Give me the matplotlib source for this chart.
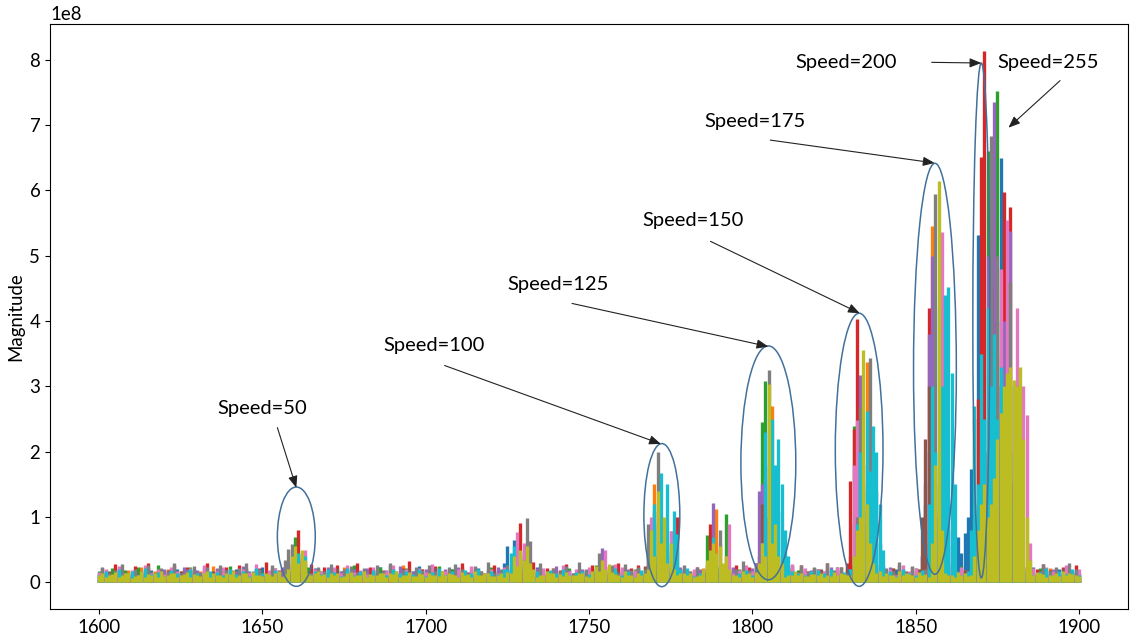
import numpy as np
import matplotlib
matplotlib.use("Agg")
import matplotlib.pyplot as plt
from matplotlib.patches import Ellipse

# ---------------------------------------------------------------------------
# Spectrum magnitudes on 1-unit frequency bins starting at 1600.
# All magnitudes are given in units of 1e6.
# ---------------------------------------------------------------------------
FREQ_START = 1600
UNIT = 1e6

noise_blue = [
    14, 2, 18, 4, 11, 1, 20, 3, 16, 5, 12, 2, 22, 0, 15, 3, 19, 1, 13, 4,
    17, 2, 10, 5, 21, 3, 14, 1, 18, 4, 12, 0, 23, 2, 16, 5, 11, 3, 19, 1,
    15, 4, 20, 2, 13, 0, 17, 3, 12, 6, 24, 1, 14, 3, 18, 2, 11, 5, 16, 0,
    20, 3, 13, 1, 17, 4, 22, 2, 10, 5, 15, 1, 19, 3, 12, 0, 21, 4, 14, 2,
    18, 1, 11, 3, 16, 5, 23, 0, 13, 2, 20, 4, 15, 1, 12, 3, 17, 2, 25, 6,
    14, 1, 19, 3, 11, 0, 16, 4, 21, 2, 13, 5, 18, 1, 10, 3, 22, 2, 15, 4,
    12, 0, 17, 3, 20, 1, 14, 5, 11, 2, 19, 4, 16, 0, 23, 3, 13, 1, 18, 2,
    10, 4, 21, 1, 15, 3, 12, 0, 19, 5, 14, 2, 17, 3, 22, 1, 11, 4, 16, 2,
    20, 0, 13, 3, 18, 1, 15, 4, 24, 2, 12, 5, 16, 1, 19, 3, 11, 0, 21, 4,
    14, 2, 17, 1, 12, 3, 20, 5, 15, 0, 18, 2, 13, 4, 22, 1, 16, 3, 10, 2,
    19, 4, 14, 0, 23, 3, 11, 1, 17, 5, 15, 2, 20, 3, 12, 0, 18, 4, 13, 1,
    21, 3, 16, 2, 11, 4, 19, 0, 14, 5, 25, 1, 13, 3, 17, 2, 22, 4, 15, 0,
    12, 3, 18, 1, 20, 5, 14, 2, 16, 0, 11, 4, 23, 3, 15, 1, 19, 2, 13, 5,
    17, 0, 22, 3, 12, 1, 16, 4, 20, 2, 14, 5, 18, 1, 11, 3, 21, 0, 15, 2,
    13, 4, 19, 1, 16, 3, 24, 0, 12, 5, 17, 2, 14, 3, 20, 1, 11, 4, 18, 2,
    15,
]
noise_orange = [
    3, 16, 1, 12, 5, 21, 2, 14, 0, 19, 4, 11, 2, 24, 1, 15, 3, 18, 0, 13,
    5, 20, 2, 10, 4, 17, 1, 22, 3, 14, 0, 18, 5, 12, 2, 25, 1, 16, 4, 11,
    2, 19, 0, 14, 3, 21, 5, 13, 1, 17, 4, 10, 2, 23, 0, 15, 3, 18, 1, 12,
    4, 22, 2, 16, 0, 11, 5, 20, 3, 14, 1, 19, 4, 13, 2, 24, 0, 17, 3, 10,
    1, 18, 4, 15, 2, 21, 0, 12, 5, 19, 3, 14, 1, 26, 4, 11, 2, 17, 0, 20,
    3, 13, 5, 22, 1, 16, 4, 10, 2, 18, 0, 23, 3, 14, 5, 19, 1, 12, 4, 21,
    2, 15, 0, 18, 3, 11, 1, 24, 4, 16, 2, 13, 5, 20, 0, 17, 3, 12, 1, 22,
    4, 14, 2, 19, 0, 10, 5, 21, 3, 15, 1, 18, 4, 12, 2, 25, 0, 16, 3, 13,
    5, 20, 1, 11, 4, 17, 2, 23, 0, 14, 3, 19, 1, 12, 5, 16, 2, 21, 4, 10,
    0, 18, 3, 15, 1, 22, 4, 13, 2, 19, 5, 11, 0, 24, 3, 14, 1, 17, 4, 20,
    2, 12, 5, 18, 0, 21, 3, 15, 1, 10, 4, 23, 2, 16, 0, 19, 5, 13, 1, 22,
    3, 14, 1, 20, 4, 11, 2, 17, 0, 25, 3, 15, 5, 12, 1, 19, 2, 21, 4, 16,
    0, 13, 3, 22, 1, 18, 5, 10, 2, 16, 4, 20, 0, 14, 3, 24, 1, 12, 5, 17,
    2, 21, 4, 15, 0, 19, 3, 11, 1, 23, 5, 14, 2, 18, 0, 12, 4, 20, 3, 16,
    1, 10, 5, 24, 2, 17, 0, 13, 4, 19, 1, 22, 3, 15, 5, 11, 2, 18, 0, 14,
    3,
]
noise_green = [
    17, 3, 12, 0, 22, 4, 15, 2, 19, 1, 11, 5, 24, 3, 13, 0, 18, 2, 27, 4,
    14, 1, 20, 3, 10, 5, 16, 2, 23, 0, 12, 4, 19, 1, 15, 3, 21, 2, 11, 5,
    25, 0, 13, 3, 18, 1, 14, 4, 20, 2, 16, 0, 12, 5, 22, 3, 17, 1, 10, 4,
    19, 2, 15, 0, 24, 3, 11, 5, 17, 1, 21, 4, 13, 2, 18, 0, 14, 3, 26, 1,
    12, 5, 20, 2, 16, 0, 23, 4, 10, 3, 18, 1, 15, 5, 22, 2, 13, 0, 19, 4,
    11, 3, 17, 1, 25, 4, 14, 0, 21, 2, 16, 5, 12, 3, 20, 1, 18, 4, 10, 2,
    23, 0, 15, 3, 19, 1, 13, 5, 17, 2, 11, 4, 24, 0, 16, 3, 20, 1, 14, 5,
    18, 2, 12, 4, 22, 0, 15, 3, 10, 1, 19, 5, 27, 2, 13, 4, 17, 0, 21, 3,
    16, 1, 11, 5, 20, 3, 14, 2, 25, 0, 12, 4, 18, 1, 15, 3, 23, 2, 10, 5,
    19, 3, 13, 0, 17, 4, 21, 2, 11, 1, 24, 5, 14, 3, 16, 0, 20, 2, 12, 4,
    15, 0, 22, 3, 18, 1, 10, 5, 16, 2, 13, 4, 26, 0, 19, 3, 11, 1, 17, 5,
    20, 2, 14, 4, 12, 0, 23, 3, 15, 1, 18, 5, 10, 2, 21, 4, 16, 0, 13, 3,
    24, 1, 17, 5, 11, 2, 19, 0, 14, 4, 22, 3, 12, 1, 16, 5, 20, 2, 15, 0,
    10, 4, 18, 2, 25, 3, 13, 1, 21, 5, 15, 0, 17, 4, 11, 2, 23, 3, 19, 1,
    14, 5, 12, 0, 20, 3, 16, 2, 22, 4, 11, 1, 18, 5, 13, 0, 24, 2, 15, 3,
    12,
]
noise_red = [
    4, 22, 1, 15, 3, 28, 0, 18, 5, 13, 2, 25, 4, 16, 1, 30, 3, 12, 0, 21,
    5, 17, 2, 26, 4, 14, 1, 23, 3, 19, 0, 12, 5, 29, 2, 16, 4, 20, 1, 24,
    3, 13, 0, 27, 5, 18, 2, 15, 4, 22, 1, 31, 3, 14, 0, 19, 5, 25, 2, 16,
    1, 21, 4, 12, 3, 28, 0, 17, 5, 23, 2, 14, 1, 26, 4, 18, 3, 13, 0, 30,
    5, 16, 2, 24, 1, 19, 4, 12, 3, 27, 0, 15, 5, 22, 2, 33, 1, 17, 4, 20,
    3, 14, 0, 25, 5, 18, 2, 21, 4, 13, 1, 29, 3, 16, 0, 23, 5, 12, 2, 19,
    4, 27, 1, 15, 3, 20, 0, 24, 5, 17, 2, 13, 4, 31, 1, 18, 3, 22, 0, 14,
    5, 19, 2, 28, 4, 12, 1, 21, 3, 16, 0, 26, 5, 14, 2, 23, 4, 18, 1, 30,
    3, 15, 0, 22, 5, 27, 2, 13, 4, 20, 1, 17, 3, 25, 0, 14, 5, 29, 2, 19,
    4, 12, 1, 24, 3, 18, 0, 28, 5, 15, 2, 21, 4, 13, 1, 26, 3, 17, 0, 23,
    5, 30, 2, 16, 4, 19, 1, 14, 3, 25, 0, 20, 5, 12, 2, 27, 4, 18, 1, 22,
    3, 17, 0, 29, 5, 13, 2, 24, 4, 16, 1, 21, 3, 32, 0, 15, 5, 19, 2, 26,
    4, 14, 1, 20, 3, 27, 0, 12, 5, 23, 2, 18, 4, 15, 1, 28, 3, 21, 0, 16,
    5, 25, 2, 13, 4, 19, 1, 30, 3, 17, 0, 22, 5, 14, 2, 26, 4, 12, 1, 20,
    3, 18, 0, 24, 5, 15, 2, 21, 4, 28, 1, 13, 3, 19, 0, 23, 5, 16, 2, 27,
    4,
]
noise_purple = [
    13, 2, 19, 5, 11, 0, 23, 3, 15, 1, 18, 4, 12, 2, 21, 0, 16, 5, 14, 3,
    20, 1, 10, 4, 17, 2, 24, 0, 13, 5, 19, 3, 15, 1, 11, 4, 22, 2, 16, 0,
    12, 5, 18, 3, 25, 1, 14, 4, 20, 0, 11, 2, 17, 5, 13, 3, 23, 1, 15, 4,
    19, 0, 16, 2, 12, 5, 21, 3, 14, 1, 24, 4, 10, 0, 18, 2, 15, 5, 20, 3,
    11, 1, 22, 4, 17, 0, 13, 2, 19, 5, 15, 3, 25, 1, 12, 4, 18, 0, 14, 2,
    21, 5, 16, 3, 10, 1, 20, 4, 13, 0, 23, 2, 17, 5, 11, 3, 19, 1, 15, 4,
    14, 0, 24, 2, 18, 5, 12, 3, 16, 1, 20, 4, 11, 0, 22, 2, 13, 5, 17, 3,
    25, 1, 15, 4, 19, 0, 11, 2, 21, 5, 14, 3, 18, 1, 12, 4, 23, 0, 16, 2,
    10, 5, 20, 3, 14, 1, 17, 4, 22, 0, 13, 2, 19, 5, 15, 3, 11, 1, 24, 4,
    18, 0, 12, 2, 21, 5, 16, 3, 10, 1, 19, 4, 14, 0, 23, 2, 17, 5, 13, 3,
    22, 1, 15, 4, 11, 0, 20, 2, 18, 5, 12, 3, 25, 1, 16, 4, 14, 0, 19, 2,
    13, 5, 17, 3, 24, 1, 12, 4, 15, 0, 21, 2, 11, 5, 18, 3, 20, 1, 14, 4,
    16, 0, 23, 2, 13, 5, 19, 3, 10, 1, 17, 4, 22, 0, 14, 2, 12, 5, 25, 3,
    11, 1, 18, 4, 20, 0, 15, 2, 13, 5, 24, 3, 16, 1, 19, 4, 12, 0, 21, 2,
    17, 5, 14, 3, 22, 1, 11, 4, 18, 0, 15, 2, 20, 5, 13, 3, 23, 1, 16, 4,
    12,
]
noise_brown = [
    2, 14, 0, 18, 4, 11, 1, 20, 3, 13, 5, 16, 2, 9, 0, 22, 4, 15, 1, 12,
    3, 19, 5, 10, 2, 17, 0, 13, 4, 21, 1, 15, 3, 11, 5, 18, 2, 14, 0, 20,
    4, 12, 1, 16, 3, 22, 5, 9, 0, 18, 2, 13, 4, 19, 1, 11, 3, 21, 5, 15,
    0, 17, 2, 13, 4, 10, 1, 20, 3, 16, 5, 12, 0, 22, 2, 14, 4, 18, 1, 9,
    3, 21, 5, 15, 0, 12, 2, 19, 4, 11, 1, 17, 3, 14, 5, 20, 0, 13, 2, 16,
    4, 10, 1, 22, 3, 14, 5, 18, 0, 12, 2, 20, 4, 15, 1, 9, 3, 17, 5, 13,
    0, 19, 2, 11, 4, 16, 1, 21, 3, 13, 5, 18, 0, 10, 2, 22, 4, 14, 1, 17,
    3, 12, 5, 20, 0, 15, 2, 9, 4, 19, 1, 14, 3, 21, 5, 11, 0, 16, 2, 18,
    4, 13, 1, 17, 3, 22, 5, 12, 0, 15, 2, 20, 4, 10, 1, 18, 3, 14, 5, 21,
    0, 16, 2, 11, 4, 19, 1, 13, 3, 22, 5, 15, 0, 17, 2, 9, 4, 20, 1, 12,
    3, 18, 5, 14, 0, 21, 2, 10, 4, 16, 1, 19, 3, 13, 5, 22, 0, 11, 2, 15,
    4, 20, 1, 12, 3, 17, 5, 14, 0, 19, 2, 11, 4, 21, 1, 16, 3, 13, 5, 18,
    0, 9, 2, 22, 4, 15, 1, 18, 3, 12, 5, 20, 0, 14, 2, 17, 4, 11, 1, 21,
    3, 13, 5, 16, 0, 19, 2, 12, 4, 22, 1, 15, 3, 10, 5, 18, 0, 20, 2, 14,
    4, 17, 1, 11, 3, 21, 5, 13, 0, 16, 2, 19, 4, 12, 1, 22, 3, 15, 5, 10,
    2,
]
noise_pink = [
    16, 3, 21, 0, 12, 4, 25, 2, 14, 5, 19, 1, 11, 3, 27, 0, 15, 4, 20, 2,
    13, 5, 23, 1, 17, 3, 10, 0, 22, 4, 15, 2, 26, 5, 12, 1, 18, 3, 24, 0,
    14, 4, 11, 2, 20, 5, 16, 1, 28, 3, 13, 0, 19, 4, 22, 2, 10, 5, 17, 1,
    25, 3, 15, 0, 12, 4, 21, 2, 18, 5, 11, 1, 24, 3, 14, 0, 27, 4, 16, 2,
    19, 5, 13, 1, 23, 3, 10, 0, 17, 4, 26, 2, 15, 5, 20, 1, 12, 3, 22, 0,
    16, 4, 28, 2, 11, 5, 18, 1, 14, 3, 21, 0, 13, 4, 25, 2, 17, 5, 10, 1,
    20, 3, 15, 0, 24, 4, 12, 2, 19, 5, 16, 1, 27, 3, 11, 0, 22, 4, 14, 2,
    13, 5, 26, 1, 17, 3, 21, 0, 10, 4, 23, 2, 15, 5, 18, 1, 12, 3, 28, 0,
    24, 4, 14, 2, 19, 5, 11, 1, 22, 3, 16, 0, 25, 4, 13, 2, 20, 5, 17, 1,
    12, 3, 21, 0, 15, 4, 27, 2, 18, 5, 10, 1, 23, 3, 14, 0, 19, 4, 26, 2,
    17, 5, 11, 1, 25, 3, 16, 0, 20, 4, 13, 2, 28, 5, 15, 1, 22, 3, 12, 0,
    21, 4, 18, 2, 14, 5, 24, 1, 10, 3, 19, 0, 16, 4, 26, 2, 13, 5, 23, 1,
    15, 3, 20, 0, 12, 4, 27, 2, 17, 5, 22, 1, 11, 3, 18, 0, 25, 4, 14, 2,
    19, 5, 13, 1, 23, 3, 16, 0, 28, 4, 12, 2, 21, 5, 15, 1, 20, 3, 10, 0,
    26, 4, 17, 2, 11, 5, 22, 1, 14, 3, 24, 0, 18, 4, 13, 2, 27, 5, 16, 1,
    20,
]
noise_gray = [
    3, 24, 1, 15, 4, 19, 0, 28, 2, 13, 5, 21, 3, 17, 1, 26, 4, 12, 0, 22,
    2, 18, 5, 30, 3, 14, 1, 20, 4, 25, 0, 16, 2, 23, 5, 11, 3, 27, 1, 19,
    4, 13, 0, 22, 2, 29, 5, 17, 3, 21, 1, 12, 4, 26, 0, 18, 2, 24, 5, 15,
    3, 31, 1, 19, 4, 14, 0, 23, 2, 17, 5, 28, 3, 12, 1, 20, 4, 25, 0, 16,
    2, 22, 5, 13, 3, 27, 1, 18, 4, 30, 0, 15, 2, 21, 5, 11, 3, 24, 1, 19,
    4, 26, 0, 17, 2, 12, 5, 23, 3, 28, 1, 20, 4, 14, 0, 25, 2, 18, 5, 32,
    3, 15, 1, 21, 4, 27, 0, 13, 2, 19, 5, 24, 3, 16, 1, 29, 4, 12, 0, 22,
    2, 18, 5, 25, 3, 14, 1, 31, 4, 20, 0, 17, 2, 23, 5, 13, 3, 26, 1, 15,
    4, 28, 0, 19, 2, 24, 5, 12, 3, 21, 1, 30, 4, 16, 0, 22, 2, 14, 5, 27,
    3, 17, 1, 23, 4, 13, 0, 26, 2, 18, 5, 29, 3, 15, 1, 21, 4, 33, 0, 19,
    2, 25, 5, 14, 3, 20, 1, 28, 4, 16, 0, 22, 2, 12, 5, 27, 3, 18, 1, 24,
    4, 13, 0, 30, 2, 19, 5, 23, 3, 15, 1, 26, 4, 21, 0, 17, 2, 28, 5, 14,
    3, 22, 1, 18, 4, 31, 0, 16, 2, 25, 5, 12, 3, 20, 1, 27, 4, 15, 0, 23,
    2, 29, 5, 17, 3, 13, 1, 24, 4, 19, 0, 32, 2, 14, 5, 21, 3, 26, 1, 18,
    4, 16, 0, 25, 2, 20, 5, 12, 3, 28, 1, 17, 4, 23, 0, 15, 2, 30, 5, 21,
    3,
]
noise_cyan = [
    12, 2, 17, 4, 9, 1, 20, 3, 14, 0, 18, 5, 11, 2, 22, 4, 13, 1, 16, 3,
    10, 0, 19, 5, 15, 2, 12, 4, 21, 1, 14, 3, 8, 0, 18, 5, 16, 2, 11, 4,
    20, 1, 13, 3, 17, 0, 10, 5, 22, 2, 15, 4, 12, 1, 19, 3, 9, 0, 16, 5,
    14, 2, 21, 4, 11, 1, 18, 3, 13, 0, 20, 5, 16, 2, 10, 4, 22, 1, 12, 3,
    17, 0, 9, 5, 19, 2, 14, 4, 11, 1, 21, 3, 15, 0, 18, 5, 13, 2, 20, 4,
    10, 1, 16, 3, 22, 0, 12, 5, 17, 2, 9, 4, 19, 1, 14, 3, 21, 0, 11, 5,
    18, 2, 13, 4, 20, 1, 15, 3, 10, 0, 22, 5, 12, 2, 17, 4, 9, 1, 19, 3,
    14, 0, 21, 5, 11, 2, 16, 4, 18, 1, 13, 3, 20, 0, 10, 5, 15, 2, 22, 4,
    12, 1, 17, 3, 9, 0, 19, 5, 14, 2, 21, 4, 11, 1, 16, 3, 20, 0, 13, 5,
    22, 2, 10, 4, 15, 1, 18, 3, 12, 0, 17, 5, 21, 2, 9, 4, 14, 1, 19, 3,
    11, 0, 20, 5, 16, 2, 13, 4, 22, 1, 10, 3, 18, 0, 15, 5, 12, 2, 17, 4,
    19, 1, 14, 3, 21, 0, 9, 5, 16, 2, 20, 4, 12, 1, 18, 3, 11, 0, 22, 5,
    13, 2, 17, 4, 10, 1, 20, 3, 15, 0, 12, 5, 19, 2, 14, 4, 21, 1, 9, 3,
    16, 0, 22, 5, 12, 2, 18, 4, 11, 1, 15, 3, 20, 0, 13, 5, 17, 2, 10, 4,
    21, 1, 14, 3, 19, 0, 11, 5, 16, 2, 22, 4, 9, 1, 18, 3, 13, 0, 20, 5,
    12,
]
noise_olive = [
    12, 15, 8, 11, 13, 16, 9, 12, 14, 15, 7, 10, 12, 17, 9, 13, 11, 14, 8, 18,
    10, 11, 14, 15, 9, 12, 13, 16, 8, 13, 12, 10, 14, 17, 9, 14, 11, 12, 8, 15,
    13, 18, 9, 11, 14, 14, 8, 16, 12, 12, 10, 15, 13, 10, 14, 17, 8, 13, 11, 14,
    9, 12, 13, 16, 8, 11, 14, 18, 12, 13, 9, 14, 12, 15, 8, 10, 14, 16, 10, 12,
    12, 17, 8, 13, 11, 11, 14, 15, 9, 14, 13, 18, 8, 12, 11, 16, 10, 10, 14, 13,
    8, 15, 12, 12, 10, 17, 11, 14, 13, 11, 8, 16, 12, 13, 9, 18, 11, 12, 14, 15,
    10, 10, 12, 14, 8, 16, 11, 13, 14, 17, 9, 12, 13, 15, 8, 11, 12, 18, 14, 14,
    8, 13, 10, 16, 12, 12, 11, 15, 14, 10, 8, 17, 10, 14, 12, 13, 11, 16, 13, 11,
    9, 18, 12, 12, 8, 15, 11, 14, 13, 16, 10, 11, 12, 17, 8, 13, 11, 12, 14, 15,
    12, 14, 8, 10, 11, 16, 10, 13, 14, 18, 12, 12, 8, 15, 11, 11, 9, 17, 13, 14,
    8, 16, 11, 13, 12, 11, 10, 17, 14, 14, 8, 12, 11, 18, 12, 15, 10, 10, 13, 13,
    11, 15, 8, 12, 10, 16, 12, 14, 13, 11, 11, 17, 8, 13, 10, 15, 12, 12, 14, 18,
    10, 14, 11, 11, 8, 17, 12, 15, 13, 12, 9, 16, 11, 13, 8, 10, 12, 18, 14, 14,
    11, 12, 8, 16, 12, 14, 10, 11, 14, 17, 11, 13, 8, 15, 12, 12, 10, 18, 13, 10,
    8, 17, 11, 14, 10, 12, 12, 16, 14, 13, 8, 11, 11, 15, 10, 18, 12, 14, 13, 12,
    10,
]

# Resonance peaks: {first frequency of the window: magnitudes on consecutive bins}
peaks_blue = {
    1659: [25, 8, 30],
    1724: [30, 55, 20, 65, 25, 50, 10],
    1771: [30, 60, 20, 50, 25],
    1788: [20, 50, 15],
    1802: [30, 90, 180, 100, 160, 70, 110, 40, 20],
    1832: [60, 100, 180, 110, 160, 150, 140, 60, 25],
    1852: [40, 120, 200, 250, 150, 100, 160, 200, 80],
    1861: [55, 30, 70, 45, 75],
    1866: [100, 174, 120, 531, 300, 150, 120, 200, 180, 140, 649, 300, 250,
           160, 150, 80, 40],
}
peaks_orange = {
    1660: [45, 10, 38],
    1729: [20, 40, 10],
    1769: [30, 151, 25],
    1788: [30, 113, 20],
    1805: [60, 270, 40],
    1834: [80, 337, 60],
    1854: [80, 546, 120],
    1871: [100, 200, 120, 150, 130, 350, 300, 150, 200, 80],
}
peaks_green = {
    1659: [20, 70, 15, 40],
    1728: [15, 45, 10],
    1770: [40, 90, 30, 70],
    1785: [15, 73, 20],
    1791: [25, 105, 15],
    1802: [40, 245, 309, 50],
    1830: [40, 240, 60],
    1854: [60, 200, 40],
    1867: [40, 250, 100, 200, 180, 661, 200, 250, 752, 200, 534, 150, 300, 100],
}
peaks_red = {
    1660: [30, 80, 20],
    1728: [25, 91, 15, 40],
    1769: [20, 110, 15],
    1776: [30, 100, 20],
    1786: [25, 90, 20],
    1806: [50, 171, 30],
    1829: [30, 156, 235, 403, 60],
    1853: [50, 420, 60],
    1868: [60, 280, 651, 814, 200, 250, 150, 300, 200, 597, 250, 574, 150, 100],
}
peaks_purple = {
    1661: [35, 5, 30],
    1727: [10, 45, 20],
    1753: [10, 53, 20],
    1772: [70, 20, 40, 79],
    1787: [30, 122, 25],
    1801: [30, 140, 150, 40],
    1832: [80, 317, 90],
    1852: [40, 150, 380, 500, 90],
    1870: [100, 200, 500, 250, 735, 300, 250, 400, 200, 538, 150, 60],
}
peaks_brown = {
    1658: [30, 50, 12, 45],
    1767: [25, 60, 20],
    1802: [20, 120, 30],
    1830: [20, 90, 30],
    1852: [100, 220, 300, 80],
    1869: [80, 350, 150, 200, 450, 200, 400, 150, 250, 100],
}
peaks_pink = {
    1662: [45, 50, 8],
    1727: [30, 77, 25, 60],
    1754: [15, 50, 10],
    1768: [40, 100, 30],
    1774: [20, 79, 15],
    1790: [60, 20, 40, 90, 15],
    1803: [60, 160, 40, 120, 30],
    1831: [180, 248, 90],
    1857: [200, 537, 250, 120],
    1873: [150, 300, 200, 480, 250, 555, 200, 300, 420, 150, 300, 256, 60],
}
peaks_gray = {
    1657: [35, 51, 59, 20],
    1730: [35, 98, 64, 15],
    1752: [20, 45, 12],
    1767: [20, 90, 30, 40, 199, 80, 25],
    1789: [25, 80, 20],
    1804: [100, 325, 80],
    1832: [100, 268, 120, 150, 344, 60],
    1855: [150, 595, 100],
    1869: [100, 200, 150, 250, 684, 200, 500, 300, 250, 200, 460, 150, 300, 100],
}
peaks_cyan = {
    1661: [45, 12, 40],
    1725: [20, 45, 56, 15],
    1769: [40, 120, 80, 168, 90, 150, 60, 110, 74, 20],
    1787: [20, 70, 25],
    1803: [60, 230, 150, 250, 180, 220, 150, 80, 40],
    1832: [90, 200, 140, 263, 170, 240, 200, 120, 50],
    1854: [120, 300, 200, 420, 300, 440, 452, 320, 150],
    1867: [80, 270, 150, 350, 250, 420, 300, 380, 250, 330, 200, 280, 120, 200, 80],
}
peaks_olive = {
    1658: [20, 40, 55, 30, 50, 35, 15],
    1726: [15, 40, 25, 50, 35, 55, 30, 20],
    1752: [25, 18, 35, 20, 28],
    1768: [20, 80, 40, 140, 60, 100, 30, 60, 20],
    1785: [20, 35, 50, 60, 45, 55, 30, 40, 20],
    1802: [30, 60, 40, 304, 60, 90, 40, 30],
    1831: [40, 80, 100, 355, 120, 60, 30],
    1855: [60, 180, 614, 80],
    1868: [40, 80, 120, 150, 100, 120, 160, 220, 260, 300, 320, 330, 310,
           300, 330, 220, 100, 35],
}

# Drawing order: the olive trace is drawn last and sits on top
trace_colors = ["#1f77b4", "#ff7f0e", "#2ca02c", "#d62728", "#9467bd",
                "#8c564b", "#e377c2", "#7f7f7f", "#17becf", "#bcbd22"]
trace_noise = [noise_blue, noise_orange, noise_green, noise_red, noise_purple,
               noise_brown, noise_pink, noise_gray, noise_cyan, noise_olive]
trace_peaks = [peaks_blue, peaks_orange, peaks_green, peaks_red, peaks_purple,
               peaks_brown, peaks_pink, peaks_gray, peaks_cyan, peaks_olive]

# Annotations: label text, label anchor, arrow tail, arrow tip,
# ellipse centre and ellipse size (width in frequency, height in magnitude)
speed_labels = ["Speed=50", "Speed=100", "Speed=125", "Speed=150",
                "Speed=175", "Speed=200", "Speed=255"]
label_xy = [(1636.3, 2.66e8), (1686.9, 3.62e8), (1725.0, 4.56e8),
            (1766.2, 5.54e8), (1785.4, 7.06e8), (1813.1, 7.96e8),
            (1875.0, 7.96e8)]
arrow_tail = [(1654.6, 2.37e8), (1705.8, 3.32e8), (1744.8, 4.27e8),
              (1787.2, 5.22e8), (1805.5, 6.77e8), (1854.9, 7.96e8),
              (1894.2, 7.68e8)]
arrow_tip = [(1660.4, 1.45e8), (1772.0, 2.12e8), (1804.9, 3.61e8),
             (1832.9, 4.12e8), (1855.8, 6.42e8), (1870.1, 7.95e8),
             (1878.4, 6.96e8)]
ellipse_center = [(1660.4, 0.70e8), (1772.3, 1.03e8), (1804.9, 1.83e8),
                  (1832.7, 2.03e8), (1855.9, 3.27e8), (1870.1, 4.01e8)]
ellipse_size = [(11.6, 1.52e8), (11.0, 2.19e8), (16.8, 3.58e8),
                (14.6, 4.18e8), (13.1, 6.29e8), (5.2, 7.88e8)]

plt.rcParams["font.family"] = ["Lato", "DejaVu Sans"]

fig = plt.figure(figsize=(11.34, 6.40), dpi=100)
ax = fig.add_axes([0.0441, 0.0484, 0.9506, 0.9141])

# each spectrum is drawn as dense vertical strokes from zero to its magnitude
ymax = 0.0
for color, noise, peaks in zip(trace_colors, trace_noise, trace_peaks):
    values = np.array(noise, dtype=float)
    for start, seg in peaks.items():
        i = start - FREQ_START
        values[i:i + len(seg)] = seg
    freq = FREQ_START + np.arange(len(values))
    mags = values * UNIT
    ymax = max(ymax, mags.max())
    ax.vlines(freq, 0, mags, colors=color, linewidths=2.4, capstyle="butt")

pad = 0.05 * ymax
ax.set_xlim(1600 - 15, 1900 + 15)
ax.set_ylim(-pad, ymax + pad)

ax.set_ylabel("Magnitude", fontsize=13.4)
ax.tick_params(labelsize=13.4)
ax.yaxis.get_offset_text().set_fontsize(13.4)

outline = "#41719c"
for (cx, cy), (w, h) in zip(ellipse_center, ellipse_size):
    ax.add_patch(Ellipse((cx, cy), w, h, fill=False, edgecolor=outline,
                         lw=1.1, zorder=20))

for text, pos, tail, tip in zip(speed_labels, label_xy, arrow_tail, arrow_tip):
    ax.text(pos[0], pos[1], text, fontsize=14.5, ha="left", va="center",
            zorder=22)
    ax.annotate("", xy=tip, xytext=tail, zorder=21,
                arrowprops=dict(arrowstyle="-|>,head_length=0.5,head_width=0.2",
                                color="#222222", lw=0.8, mutation_scale=14,
                                shrinkA=0, shrinkB=0))

fig.savefig("out.png", dpi=100)
